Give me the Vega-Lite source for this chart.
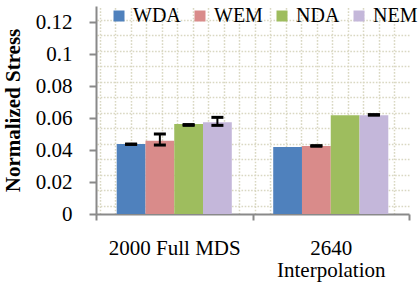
{
  "$schema": "https://vega.github.io/schema/vega-lite/v6.json",
  "autosize": "none",
  "width": 313,
  "height": 208,
  "padding": {"left": 96, "top": 6, "right": 10, "bottom": 76},
  "background": "white",
  "config": {
    "view": {"stroke": null},
    "font": "Liberation Serif"
  },
  "data": {
    "values": [
      {"group": "2000 Full MDS", "series": "WDA", "value": 0.0438, "lo": 0.0435, "hi": 0.0437},
      {"group": "2000 Full MDS", "series": "WEM", "value": 0.0458, "lo": 0.0431, "hi": 0.0500},
      {"group": "2000 Full MDS", "series": "NDA", "value": 0.0563, "lo": 0.0554, "hi": 0.0559},
      {"group": "2000 Full MDS", "series": "NEM", "value": 0.0573, "lo": 0.0554, "hi": 0.0604},
      {"group": "2640 Interpolation", "series": "WDA", "value": 0.0419, "lo": null, "hi": null},
      {"group": "2640 Interpolation", "series": "WEM", "value": 0.0425, "lo": 0.0424, "hi": 0.0427},
      {"group": "2640 Interpolation", "series": "NDA", "value": 0.0617, "lo": null, "hi": null},
      {"group": "2640 Interpolation", "series": "NEM", "value": 0.0617, "lo": 0.0618, "hi": 0.0621}
    ]
  },
  "layer": [
    {
      "mark": {"type": "rule", "opacity": 0},
      "encoding": {
        "x": {
          "datum": 0, "type": "quantitative",
          "scale": {"domain": [-0.245, 19.95], "nice": false, "zero": false},
          "axis": {"orient": "top", "values": [0,1,2,3,4,5,6,7,8,9,10,11,12,13,14,15,16,17,18,19], "labels": false, "ticks": false, "domain": false, "title": null, "grid": true, "gridColor": "#D9D8C2", "gridDash": [1.6, 1.6], "gridWidth": 1.5}
        },
        "y": {
          "datum": 0, "type": "quantitative",
          "scale": {"domain": [-0.535, 12.885], "nice": false, "zero": false},
          "axis": {"orient": "right", "values": [0,1,2,3,4,5,6,7,8,9,10,11,12], "labels": false, "ticks": false, "domain": false, "title": null, "grid": true, "gridColor": "#D9D8C2", "gridDash": [1.6, 1.6], "gridWidth": 1.5}
        }
      }
    },
    {
      "mark": {"type": "bar"},
      "encoding": {
        "x": {
          "field": "group", "type": "nominal",
          "scale": {"paddingInner": 0, "paddingOuter": 0},
          "axis": {
            "title": null, "labelAngle": 0, "tickBand": "extent", "orient": "bottom",
            "domainColor": "#898989", "domainWidth": 2, "tickColor": "#898989", "tickWidth": 2, "tickSize": 6,
            "labelFont": "Liberation Serif", "labelFontSize": 21, "labelColor": "black", "labelPadding": 17,
            "labelBaseline": "top", "labelLineHeight": 22, "labelOverlap": false,
            "labelExpr": "datum.value == '2640 Interpolation' ? ['2640', 'Interpolation'] : datum.value"
          }
        },
        "xOffset": {"field": "series", "type": "nominal", "sort": ["WDA", "WEM", "NDA", "NEM"], "scale": {"paddingInner": 0, "paddingOuter": 0.72}},
        "y": {
          "field": "value", "type": "quantitative",
          "scale": {"domain": [0, 0.13], "nice": false},
          "axis": {
            "orient": "left",
            "title": "Normalized Stress", "titleFont": "Liberation Serif", "titleFontSize": 21, "titleFontWeight": "bold", "titleColor": "black", "titlePadding": 12,
            "values": [0, 0.02, 0.04, 0.06, 0.08, 0.1, 0.12], "format": "~g", "labelOverlap": false,
            "grid": false, "domainColor": "#898989", "domainWidth": 2, "tickColor": "#898989", "tickWidth": 2, "tickSize": 7,
            "labelFont": "Liberation Serif", "labelFontSize": 21, "labelColor": "black", "labelPadding": 17
          }
        },
        "color": {
          "field": "series", "type": "nominal", "sort": ["WDA", "WEM", "NDA", "NEM"],
          "scale": {"domain": ["WDA", "WEM", "NDA", "NEM"], "range": ["#4F81BD", "#D98B8A", "#9EBD5E", "#C4B7DA"]},
          "legend": {
            "title": null, "orient": "none", "direction": "horizontal", "legendX": 13, "legendY": 0,
            "symbolType": "square", "symbolSize": 121, "symbolStrokeWidth": 0, "symbolOpacity": 1,
            "labelFont": "Liberation Serif", "labelFontSize": 20, "labelColor": "black", "labelOffset": 4,
            "columnPadding": 9, "padding": 0
          }
        }
      }
    },
    {
      "transform": [{"filter": "datum.lo != null"}],
      "mark": {"type": "rule", "color": "black", "strokeWidth": 2},
      "encoding": {
        "x": {"field": "group", "type": "nominal", "scale": {"paddingInner": 0, "paddingOuter": 0}, "axis": null},
        "xOffset": {"field": "series", "type": "nominal", "sort": ["WDA", "WEM", "NDA", "NEM"], "scale": {"domain": ["WDA", "WEM", "NDA", "NEM"], "paddingInner": 0, "paddingOuter": 0.72}},
        "y": {"field": "lo", "type": "quantitative", "scale": {"domain": [0, 0.13], "nice": false}, "axis": null},
        "y2": {"field": "hi"}
      }
    },
    {
      "transform": [{"filter": "datum.lo != null"}],
      "mark": {"type": "tick", "color": "black", "size": 12, "thickness": 3, "opacity": 1},
      "encoding": {
        "x": {"field": "group", "type": "nominal", "scale": {"paddingInner": 0, "paddingOuter": 0}, "axis": null},
        "xOffset": {"field": "series", "type": "nominal", "sort": ["WDA", "WEM", "NDA", "NEM"], "scale": {"domain": ["WDA", "WEM", "NDA", "NEM"], "paddingInner": 0, "paddingOuter": 0.72}},
        "y": {"field": "lo", "type": "quantitative", "scale": {"domain": [0, 0.13], "nice": false}, "axis": null}
      }
    },
    {
      "transform": [{"filter": "datum.hi != null"}],
      "mark": {"type": "tick", "color": "black", "size": 12, "thickness": 3, "opacity": 1},
      "encoding": {
        "x": {"field": "group", "type": "nominal", "scale": {"paddingInner": 0, "paddingOuter": 0}, "axis": null},
        "xOffset": {"field": "series", "type": "nominal", "sort": ["WDA", "WEM", "NDA", "NEM"], "scale": {"domain": ["WDA", "WEM", "NDA", "NEM"], "paddingInner": 0, "paddingOuter": 0.72}},
        "y": {"field": "hi", "type": "quantitative", "scale": {"domain": [0, 0.13], "nice": false}, "axis": null}
      }
    }
  ],
  "resolve": {"scale": {"x": "independent", "y": "independent", "xOffset": "independent"}, "axis": {"x": "independent", "y": "independent"}}
}
